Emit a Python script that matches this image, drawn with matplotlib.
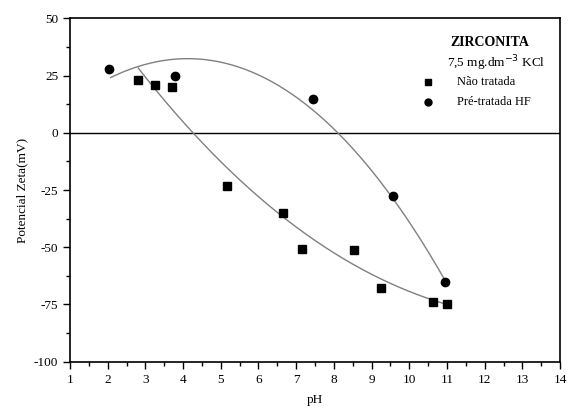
import numpy as np
import matplotlib
matplotlib.use("Agg")
import matplotlib.pyplot as plt
from matplotlib.ticker import MultipleLocator

# Measured data
ph_nt = [2.80, 3.26, 3.70, 5.16, 6.66, 7.15, 8.53, 9.24, 10.63, 11.0]
zeta_nt = [23.0, 21.0, 20.0, -23.1, -34.9, -50.8, -51.3, -67.7, -73.8, -74.8]
ph_hf = [2.03, 3.79, 7.45, 9.58, 10.95]
zeta_hf = [27.8, 24.8, 14.6, -27.6, -65.0]

# Fitted curves (sample points along each drawn curve)
curve_nt_x = [2.81, 4.23, 4.85, 6.57, 7.98, 9.04, 9.24, 10.63, 11.0]
curve_nt_y = [29.0, 0.0, -12.0, -33.8, -49.8, -63.5, -66.0, -73.0, -74.2]
curve_hf_x = [2.08, 2.81, 4.45, 7.63, 8.0, 9.58, 10.95]
curve_hf_y = [24.0, 29.0, 32.5, 7.8, 0.0, -27.6, -65.0]

plt.rcParams['font.family'] = ['Liberation Serif', 'DejaVu Serif']
plt.rcParams['axes.unicode_minus'] = False

fig = plt.figure(figsize=(5.68, 4.13), dpi=100)
ax = fig.add_axes([0.1232, 0.1242, 0.8628, 0.8315])

# curves
for cx, cy in ((curve_nt_x, curve_nt_y), (curve_hf_x, curve_hf_y)):
    coef = np.polyfit(cx, cy, 3)
    xs = np.linspace(min(cx), max(cx), 200)
    ax.plot(xs, np.polyval(coef, xs), color='#808080', lw=1.0, zorder=2)

ax.axhline(0, color='black', lw=1.0, zorder=1)

ax.plot(ph_nt, zeta_nt, 's', color='black', ms=5.5, zorder=3)
ax.plot(ph_hf, zeta_hf, 'o', color='black', ms=6, zorder=3)

ax.set_xlim(1, 14)
ax.set_ylim(-100, 50)
ax.xaxis.set_major_locator(MultipleLocator(1))
ax.xaxis.set_minor_locator(MultipleLocator(0.5))
ax.yaxis.set_major_locator(MultipleLocator(25))
ax.yaxis.set_minor_locator(MultipleLocator(12.5))
ax.tick_params(which='major', direction='out', length=5, width=1, labelsize=9.5)
ax.tick_params(which='minor', direction='out', length=3, width=1)
for s in ax.spines.values():
    s.set_linewidth(1.2)

ax.set_xlabel('pH', fontsize=9.5, labelpad=6)
ax.set_ylabel('Potencial Zeta(mV)', fontsize=9.5, labelpad=4)

# legend block
ax.text(0.857, 0.929, 'ZIRCONITA', transform=ax.transAxes, fontsize=10,
        fontweight='bold', ha='center', va='center')
ax.text(0.869, 0.870, r'7,5 mg.dm$^{-3}$ KCl', transform=ax.transAxes, fontsize=9.5,
        ha='center', va='center')
ax.plot([0.731], [0.815], 's', color='black', ms=5, transform=ax.transAxes)
ax.text(0.789, 0.815, 'Não tratada', transform=ax.transAxes, fontsize=9,
        ha='left', va='center')
ax.plot([0.731], [0.757], 'o', color='black', ms=5, transform=ax.transAxes)
ax.text(0.789, 0.757, 'Pré-tratada HF', transform=ax.transAxes, fontsize=9,
        ha='left', va='center')

fig.savefig('out.png', dpi=100)
